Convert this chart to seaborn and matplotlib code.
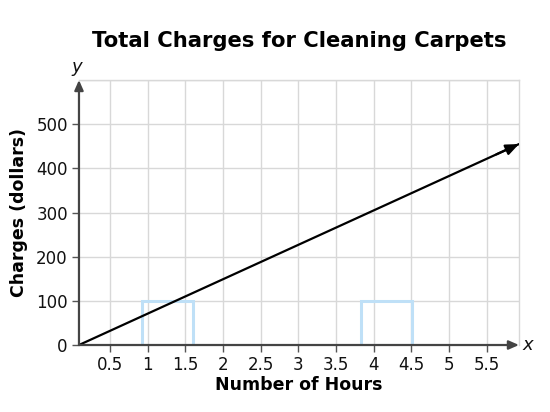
import matplotlib
matplotlib.use("Agg")
import matplotlib.pyplot as plt
import seaborn as sns
import pandas as pd
from matplotlib.patches import Rectangle

# Data
hours = [0.09, 5.93]
charges = [0, 455]
x_ticks = [0.5, 1, 1.5, 2, 2.5, 3, 3.5, 4, 4.5, 5, 5.5]
x_tick_labels = ["0.5", "1", "1.5", "2", "2.5", "3", "3.5", "4", "4.5", "5", "5.5"]
y_ticks = [0, 100, 200, 300, 400, 500]
y_tick_labels = ["0", "100", "200", "300", "400", "500"]
box_x = [0.92, 3.83]
box_width = 0.68
box_height = 100

sns.set_style("white")
plt.rcParams['font.family'] = ['DejaVu Sans']
plt.rcParams['text.color'] = 'black'
plt.rcParams['axes.labelcolor'] = 'black'

fig = plt.figure(figsize=(5.5, 4.12), dpi=100)
ax = fig.add_axes([0.1436, 0.1626, 0.80, 0.6432])

df = pd.DataFrame({"hours": hours, "charges": charges})
sns.lineplot(data=df, x="hours", y="charges", ax=ax, color="black", lw=1.6, zorder=5)

ax.set_xlim(0.09, 5.93)
ax.set_ylim(0, 600)

# grid
ax.set_xticks(x_ticks)
ax.set_xticklabels(x_tick_labels, fontsize=12, color="#111111")
ax.set_yticks(y_ticks)
ax.set_yticklabels(y_tick_labels, fontsize=12, color="#111111")
for xv in x_ticks:
    ax.axvline(xv, color="#d8d8d8", lw=1.0, zorder=0)
for yv in y_ticks[1:] + [600]:
    ax.axhline(yv, color="#d8d8d8", lw=1.0, zorder=0)

for s in ["top", "right"]:
    ax.spines[s].set_color("#d8d8d8")
    ax.spines[s].set_linewidth(1.0)
for s in ["left", "bottom"]:
    ax.spines[s].set_visible(False)

ax.tick_params(axis="both", which="both", length=5, width=1, color="#555555",
               direction="out", pad=3, left=True, bottom=True)

# axis arrows
ax.annotate("", xy=(1.0, 0), xytext=(0, 0), xycoords="axes fraction",
            arrowprops=dict(arrowstyle="-|>,head_length=0.5,head_width=0.22", color="#444444", lw=1.6,
                            mutation_scale=12, shrinkA=0, shrinkB=0), zorder=6)
ax.annotate("", xy=(0, 1.0), xytext=(0, 0), xycoords="axes fraction",
            arrowprops=dict(arrowstyle="-|>,head_length=0.5,head_width=0.22", color="#444444", lw=1.6,
                            mutation_scale=12, shrinkA=0, shrinkB=0), zorder=6)

# line arrow head
x0, x1 = hours
y0, y1 = charges
ax.annotate("", xy=(x1, y1), xytext=(x1 - 0.3, y1 - 0.3 * (y1 - y0) / (x1 - x0)),
            arrowprops=dict(arrowstyle="-|>,head_length=0.6,head_width=0.25", color="black", lw=1.6,
                            mutation_scale=13, shrinkA=0, shrinkB=0), zorder=7)

# answer boxes
for bx in box_x:
    ax.add_patch(Rectangle((bx, 0), box_width, box_height, fill=False,
                           edgecolor="#bfe0f7", lw=2.2, zorder=4))

ax.text(1.008, 0, "x", transform=ax.transAxes, fontsize=13, style="italic",
        va="center", ha="left", color="#111111")
ax.text(-0.006, 1.05, "y", transform=ax.transAxes, fontsize=13, style="italic",
        va="center", ha="center", color="#111111")

ax.set_xlabel("Number of Hours", fontsize=12.5, fontweight="bold", labelpad=1)
ax.set_ylabel("Charges (dollars)", fontsize=12.5, fontweight="bold", labelpad=6)
ax.set_title("Total Charges for Cleaning Carpets", fontsize=15.2, fontweight="bold", pad=24,
             color="black")

fig.savefig("out.png", dpi=100, facecolor="white")
